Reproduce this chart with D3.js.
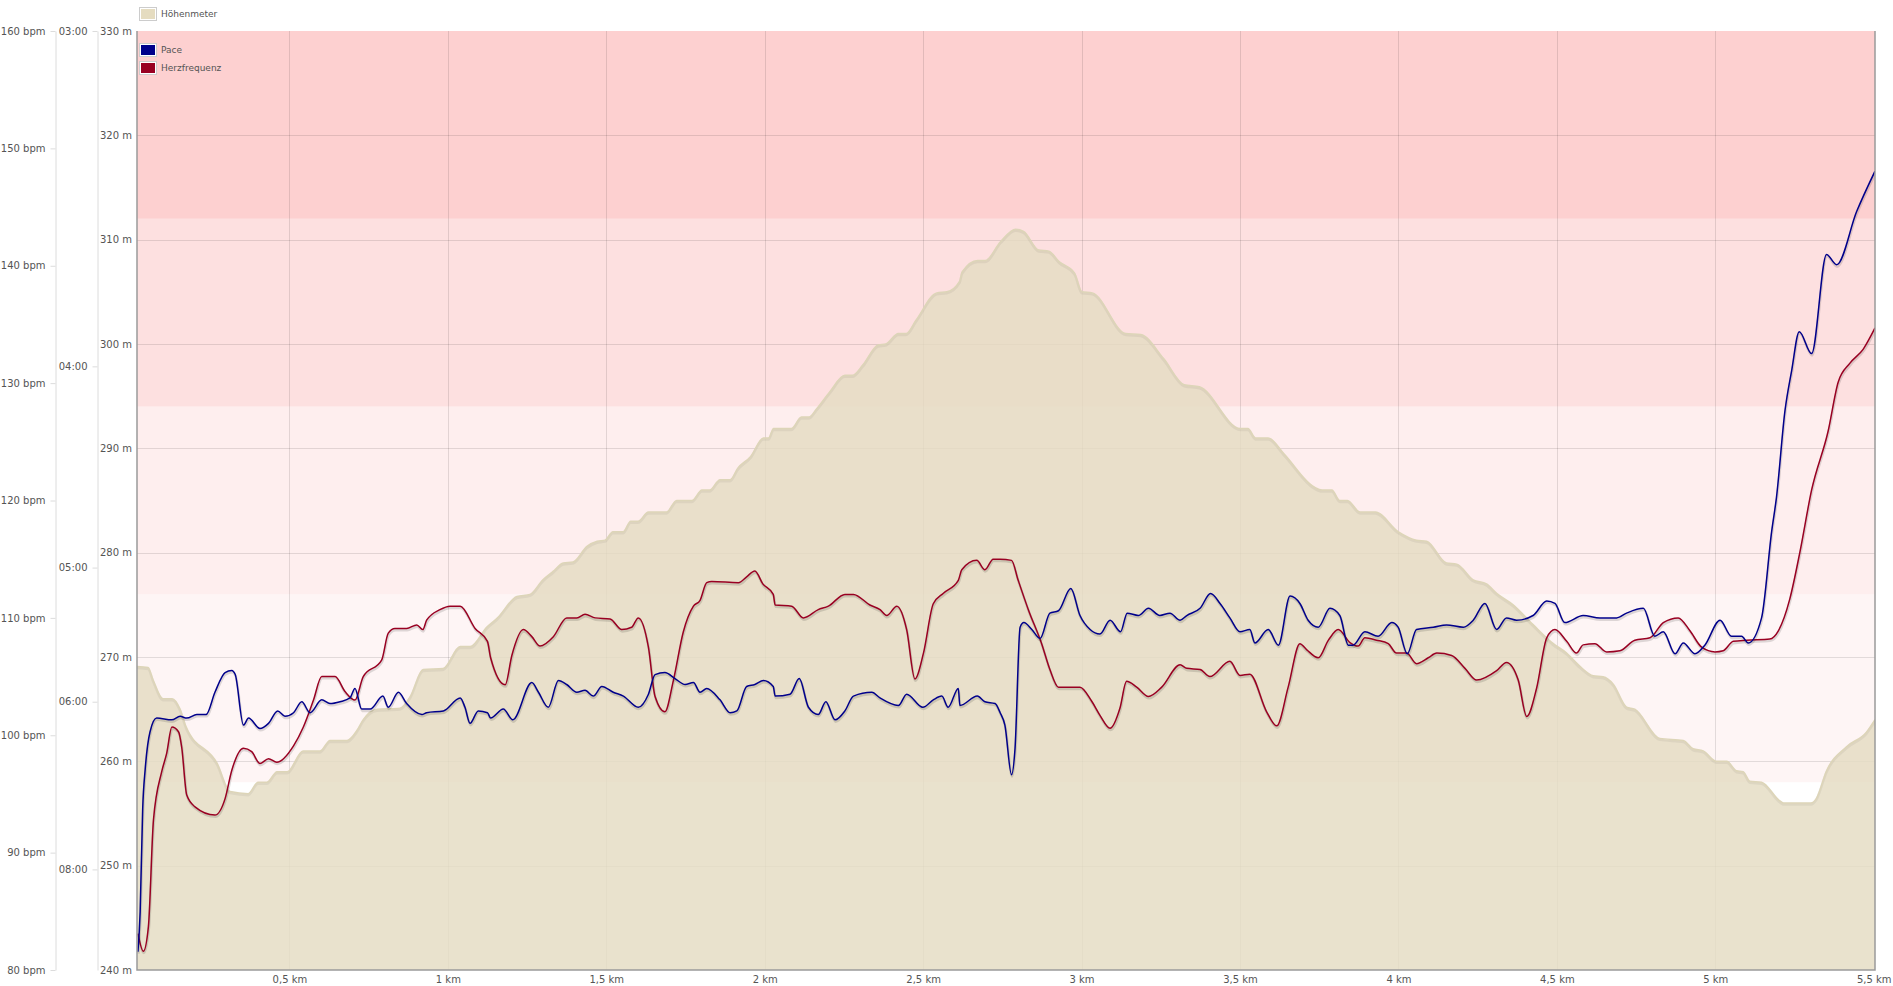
<!DOCTYPE html>
<html><head><meta charset="utf-8">
<script src="https://cdn.jsdelivr.net/npm/d3@7"></script>
<style>html,body{margin:0;padding:0;background:#fff;} svg{display:block;font-family:"DejaVu Sans",Verdana,sans-serif;}</style>
</head><body><svg id="chart" width="1893" height="986"></svg>
<script>
// ---------- data ----------
const altKm = [0.019,0.054,0.070,0.101,0.130,0.155,0.174,0.272,0.313,0.370,0.401,0.429,0.461,0.493,0.543,0.597,0.628,0.682,0.714,0.733,0.777,0.849,0.881,0.922,0.985,1.039,1.070,1.124,1.155,1.218,1.259,1.300,1.332,1.364,1.395,1.439,1.471,1.496,1.521,1.553,1.577,1.600,1.633,1.690,1.722,1.770,1.802,1.826,1.859,1.891,1.915,1.955,1.996,2.012,2.028,2.084,2.116,2.140,2.164,2.205,2.253,2.277,2.310,2.358,2.382,2.422,2.446,2.478,2.543,2.575,2.615,2.623,2.672,2.696,2.744,2.792,2.817,2.865,2.897,2.929,2.978,3.001,3.034,3.139,3.187,3.259,3.324,3.372,3.501,3.525,3.549,3.589,3.638,3.734,3.759,3.790,3.815,3.839,3.879,3.927,4.000,4.057,4.089,4.152,4.184,4.236,4.278,4.310,4.362,4.425,4.488,4.530,4.573,4.615,4.646,4.678,4.720,4.746,4.825,4.899,4.930,4.962,5.004,5.036,5.067,5.088,5.109,5.146,5.204,5.216,5.302,5.318,5.351,5.414,5.477,5.504];
const altM = [269.1,269.0,267.8,266.0,266.0,265.0,263.3,259.8,257.1,256.9,258.0,258.0,259.0,259.0,261.0,261.0,262.0,262.0,263.0,264.0,265.0,265.1,266.2,268.8,268.9,271.0,271.0,272.9,273.7,275.8,276.0,277.4,278.2,279.0,279.1,280.6,281.1,281.2,282.0,282.0,283.0,283.0,283.9,283.9,285.0,285.0,286.0,286.0,287.0,287.0,288.1,289.2,291.0,291.0,291.9,291.9,293.0,293.0,293.8,295.4,297.0,297.0,298.0,299.9,300.0,301.0,301.0,302.3,304.9,305.0,306.0,306.9,308.0,308.0,309.8,311.0,310.8,309.0,308.9,307.9,306.8,305.0,304.9,301.0,300.9,298.6,296.1,295.9,291.9,291.9,291.0,291.0,289.5,286.3,286.0,286.0,285.0,285.0,283.9,283.9,282.0,281.2,281.1,279.0,278.9,277.4,277.0,276.1,275.0,273.1,271.3,270.4,269.1,268.2,268.1,267.4,265.2,265.0,262.2,262.0,261.2,261.0,260.0,260.0,259.1,259.0,258.1,258.0,256.2,256.0,256.0,256.4,259.1,261.4,262.8,264.0];

// pace in seconds per km
const paceKm = [0.022,0.029,0.037,0.045,0.060,0.081,0.129,0.155,0.176,0.208,0.237,0.265,0.297,0.318,0.329,0.355,0.371,0.407,0.434,0.463,0.486,0.513,0.539,0.565,0.602,0.628,0.660,0.691,0.707,0.728,0.755,0.795,0.812,0.844,0.870,0.918,0.933,0.986,1.039,1.054,1.070,1.096,1.125,1.135,1.175,1.205,1.265,1.286,1.317,1.349,1.375,1.407,1.433,1.459,1.486,1.522,1.554,1.601,1.633,1.654,1.685,1.717,1.749,1.775,1.796,1.817,1.859,1.891,1.912,1.943,1.969,1.996,2.027,2.033,2.080,2.109,2.138,2.169,2.193,2.222,2.253,2.280,2.338,2.364,2.422,2.448,2.499,2.532,2.559,2.579,2.611,2.616,2.671,2.695,2.727,2.743,2.758,2.779,2.790,2.806,2.818,2.843,2.869,2.900,2.927,2.966,2.995,3.027,3.058,3.090,3.123,3.144,3.179,3.211,3.247,3.279,3.311,3.332,3.374,3.407,3.437,3.468,3.500,3.531,3.547,3.589,3.621,3.658,3.689,3.715,3.747,3.784,3.815,3.842,3.857,3.894,3.936,3.979,3.999,4.028,4.057,4.110,4.152,4.205,4.236,4.273,4.310,4.341,4.373,4.425,4.468,4.494,4.525,4.583,4.636,4.689,4.720,4.773,4.809,4.836,4.873,4.899,4.936,4.967,5.015,5.051,5.083,5.104,5.146,5.178,5.193,5.220,5.241,5.265,5.304,5.351,5.383,5.446,5.504];
const paceSec = [574,524,428,400,377,369,370,368,369,367,367,355,345,344,346,373,369,375,372,365,368,366,360,366,359,361,360,358,353,364,364,357,363,355,361,367,366,365,358,363,372,365,366,369,364,370,350,355,363,349,351,355,354,357,352,355,357,363,356,346,345,348,351,350,355,353,359,366,365,352,351,349,352,357,356,348,363,367,360,370,365,357,355,358,362,356,363,359,357,363,353,362,357,360,361,366,373,404,387,324,322,325,329,318,317,308,319,325,327,321,326,318,319,316,319,318,321,319,316,310,314,320,326,325,331,325,332,311,314,321,324,316,319,332,332,326,328,322,324,336,325,324,323,324,321,314,325,320,321,319,313,314,322,319,320,320,318,316,328,326,336,331,336,332,321,328,328,331,320,287,276,251,241,232,237,216,218,208,201];

// heart rate in bpm
const hrKm = [0.022,0.039,0.055,0.071,0.097,0.113,0.129,0.150,0.160,0.176,0.202,0.265,0.297,0.318,0.355,0.381,0.407,0.434,0.460,0.513,0.544,0.576,0.602,0.644,0.676,0.707,0.733,0.791,0.812,0.833,0.870,0.902,0.921,0.933,0.975,1.007,1.039,1.086,1.125,1.135,1.181,1.202,1.238,1.265,1.291,1.333,1.375,1.407,1.433,1.465,1.512,1.549,1.580,1.601,1.633,1.654,1.685,1.712,1.743,1.775,1.796,1.817,1.833,1.917,1.943,1.969,1.994,2.027,2.033,2.085,2.122,2.169,2.201,2.253,2.280,2.332,2.364,2.385,2.417,2.448,2.474,2.501,2.532,2.564,2.611,2.622,2.669,2.695,2.721,2.743,2.779,2.800,2.832,2.874,2.900,2.927,2.995,3.032,3.058,3.090,3.121,3.142,3.174,3.211,3.253,3.311,3.332,3.374,3.405,3.468,3.500,3.531,3.584,3.616,3.652,3.689,3.710,3.747,3.779,3.810,3.847,3.873,3.894,3.931,3.968,3.994,4.026,4.057,4.094,4.121,4.168,4.210,4.247,4.310,4.341,4.378,4.405,4.436,4.468,4.494,4.531,4.562,4.583,4.620,4.657,4.699,4.746,4.794,4.836,4.883,4.920,4.957,4.999,5.025,5.057,5.099,5.172,5.199,5.235,5.267,5.304,5.356,5.388,5.425,5.467,5.504];
const hrBpm = [83.1,81.6,83.7,92.8,96.9,98.5,100.7,100.3,99.0,94.9,93.9,93.2,94.6,97.0,98.9,98.6,97.6,98.0,97.7,99.1,100.7,103.0,105.0,105.0,103.7,103.0,105.0,106.4,108.7,109.1,109.1,109.4,109.0,109.8,110.7,111.0,111.0,109.1,108.0,106.6,104.3,106.8,109.0,108.4,107.6,108.4,110.0,110.0,110.3,110.0,109.9,109.0,109.2,110.0,107.5,103.3,102.0,104.7,108.8,111.0,111.5,113.0,113.1,113.0,113.5,114.0,112.9,112.0,111.1,111.0,110.0,110.7,111.0,112.0,112.0,111.1,110.7,110.2,111.0,109.0,104.8,107.0,111.2,112.1,113.2,114.1,114.9,114.1,115.0,115.0,114.9,113.2,110.7,107.8,105.6,104.1,104.1,102.9,101.7,100.6,102.3,104.6,104.1,103.3,104.1,106.0,105.7,105.6,105.0,106.3,105.1,105.2,102.0,100.8,104.1,107.8,107.3,106.6,108.1,109.0,107.9,107.6,108.3,108.1,107.8,107.0,107.0,106.1,106.6,107.0,106.8,105.7,104.7,105.5,106.2,104.7,101.6,104.0,108.3,109.0,108.0,107.0,107.7,107.8,107.1,107.2,108.1,108.3,109.6,110.0,108.9,107.5,107.1,107.2,108.0,108.1,108.2,108.9,111.6,115.6,120.9,125.9,130.1,131.7,132.9,134.7];

// heart-rate zones (bpm) and axis ticks
const zoneBounds = [96,112,128,144,160];
const zoneColors = ["#fef5f5","#feeeee","#fde0e0","#fdd0d0"];
const altTicks = [240,250,260,270,280,290,300,310,320,330];
const hrTicks = [80,90,100,110,120,130,140,150,160];
const paceTickSec = [180,240,300,360,480];
const paceTickLabels = ["03:00","04:00","05:00","06:00","08:00"];
const kmTicks = [0.5,1,1.5,2,2.5,3,3.5,4,4.5,5,5.5];
const seriesNames = ["Höhenmeter","Pace","Herzfrequenz"];
const seriesColors = ["#e5dcc0","#00008b","#990022"];

// ---------- layout ----------
const L = 137, R = 1875, T = 31, B = 970;
const svg = d3.select("#chart");

const x = d3.scaleLinear().domain([altKm[0], altKm[altKm.length-1]]).range([L, R]);
const yAlt = d3.scaleLinear().domain([240, 330]).range([B, T]);
const yHr = d3.scaleLinear().domain([80, 160]).range([B, T]);
const ySpeed = d3.scaleLinear().domain([6, 20]).range([B, T]); // km/h
const toSpeed = s => 3600 / s;

svg.append("defs").append("clipPath").attr("id","clip")
  .append("rect").attr("x",L).attr("y",T).attr("width",R-L).attr("height",B-T);

// zones
const zones = d3.range(zoneColors.length).map(i => ({lo: zoneBounds[i], hi: zoneBounds[i+1], c: zoneColors[i]}));
svg.append("g").selectAll("rect").data(zones).join("rect")
  .attr("x", L).attr("width", R-L)
  .attr("y", d => yHr(d.hi)).attr("height", d => yHr(d.lo) - yHr(d.hi))
  .attr("fill", d => d.c);

// grid
const grid = svg.append("g").attr("stroke","rgba(0,0,0,0.11)").attr("stroke-width",1);
grid.selectAll(".h").data(altTicks.slice(1,-1)).join("line")
  .attr("x1",L).attr("x2",R).attr("y1",d=>Math.round(yAlt(d))+0.5).attr("y2",d=>Math.round(yAlt(d))+0.5);
grid.selectAll(".v").data(kmTicks.filter(k=>k<5.4)).join("line")
  .attr("y1",T).attr("y2",B).attr("x1",d=>Math.round(x(d))+0.5).attr("x2",d=>Math.round(x(d))+0.5);

const plot = svg.append("g").attr("clip-path","url(#clip)");

// altitude area
const altData = altKm.map((k,i)=>[k, altM[i]]);
const area = d3.area().x(d=>x(d[0])).y0(B).y1(d=>yAlt(d[1])).curve(d3.curveMonotoneX);
const altLine = d3.line().x(d=>x(d[0])).y(d=>yAlt(d[1])).curve(d3.curveMonotoneX);
plot.append("path").datum(altData).attr("d", area).attr("fill","rgba(228,220,194,0.82)");
plot.append("path").datum(altData).attr("d", altLine).attr("fill","none")
  .attr("stroke","rgba(0,0,0,0.05)").attr("stroke-width",2.5).attr("transform","translate(0,1.5)");
plot.append("path").datum(altData).attr("d", altLine).attr("fill","none")
  .attr("stroke","#ddd5b8").attr("stroke-width",1.5);

// lines
function drawLine(data, yfn, color){
  const ln = d3.line().x(d=>x(d[0])).y(d=>yfn(d[1])).curve(d3.curveMonotoneX);
  plot.append("path").datum(data).attr("d", ln).attr("fill","none")
    .attr("stroke","rgba(0,0,0,0.13)").attr("stroke-width",2.5).attr("transform","translate(0.5,1.8)");
  plot.append("path").datum(data).attr("d", ln).attr("fill","none")
    .attr("stroke",color).attr("stroke-width",1.5).attr("stroke-linejoin","round");
}
drawLine(hrKm.map((k,i)=>[k,hrBpm[i]]), v=>yHr(v), seriesColors[2]);
drawLine(paceKm.map((k,i)=>[k,paceSec[i]]), s=>ySpeed(toSpeed(s)), seriesColors[1]);

// borders
svg.append("path").attr("d",`M${L},${T}V${B}H${R}V${T}`).attr("fill","none")
  .attr("stroke","#9a9a9a").attr("stroke-width",1.5);

// axes
function styleAxis(g, lineColor){
  g.selectAll("text").attr("fill","#545454").attr("font-size","10px").attr("font-family","'DejaVu Sans',Verdana,sans-serif");
  g.selectAll("line").attr("stroke",lineColor);
  g.select(".domain").attr("stroke",lineColor);
}
const gAlt = svg.append("g").attr("transform",`translate(${L},0)`)
  .call(d3.axisLeft(yAlt).tickValues(altTicks).tickSize(0).tickPadding(5).tickFormat(d=>d+" m"));
gAlt.select(".domain").remove();
styleAxis(gAlt,"#ddd");

const gHr = svg.append("g").attr("transform",`translate(55.5,0)`)
  .call(d3.axisLeft(yHr).tickValues(hrTicks).tickSizeInner(5).tickSizeOuter(0).tickPadding(5).tickFormat(d=>d+" bpm"));
styleAxis(gHr,"#dcdcdc");

const gPace = svg.append("g").attr("transform",`translate(97.5,0)`)
  .call(d3.axisLeft(ySpeed).tickValues(paceTickSec.map(toSpeed)).tickSizeInner(5).tickSizeOuter(0).tickPadding(5)
    .tickFormat((d,i)=>paceTickLabels[i]));
styleAxis(gPace,"#dcdcdc");

const gX = svg.append("g").attr("transform",`translate(0,${B})`)
  .call(d3.axisBottom(x).tickValues(kmTicks).tickSize(0).tickPadding(6)
    .tickFormat(d=>String(d).replace(".",",")+" km"));
gX.select(".domain").remove();
styleAxis(gX,"#ddd");

// legend
const legendRows = [{n:seriesNames[0], c:seriesColors[0], y:7.5},{n:seriesNames[1], c:seriesColors[1], y:43.5},{n:seriesNames[2], c:seriesColors[2], y:61.5}];
const lg = svg.append("g");
const lr = lg.selectAll("g").data(legendRows).join("g").attr("transform",d=>`translate(139.5,${d.y})`);
lr.append("rect").attr("width",17).attr("height",13).attr("fill","#fff").attr("stroke","#ccc");
lr.append("rect").attr("x",1.5).attr("y",1.5).attr("width",14).attr("height",10).attr("fill",d=>d.c);
lr.append("text").attr("x",21.5).attr("y",6.5).attr("dominant-baseline","central")
  .attr("font-size","9px").attr("fill","#545454").text(d=>d.n);
</script></body></html>
